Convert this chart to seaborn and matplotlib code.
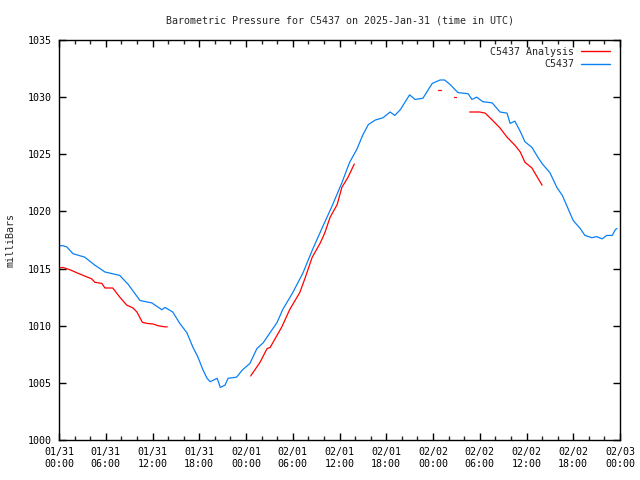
import numpy as np
import pandas as pd
import matplotlib
matplotlib.use("Agg")
import matplotlib.pyplot as plt
import seaborn as sns
from matplotlib.ticker import MultipleLocator
from matplotlib.lines import Line2D

# ---- data (hours since 2025-01-31 00:00 UTC, pressure in mb) ----
obs_hours = [0.0, 0.5, 1.0, 1.8, 3.3, 4.6, 5.9, 7.8, 8.9, 10.4, 11.9, 13.2, 13.6, 14.6,
             15.5, 16.4, 17.2, 17.8, 18.5, 19.0, 19.4, 20.3, 20.7, 21.3, 21.7, 22.8,
             23.5, 24.5, 25.4, 26.2, 27.1, 28.0, 28.7, 30.0, 31.3, 32.5, 33.8, 35.0,
             36.3, 37.3, 38.2, 39.0, 39.7, 40.6, 41.6, 42.5, 43.1, 43.8, 45.0, 45.7,
             46.7, 47.9, 48.9, 49.5, 50.2, 51.2, 52.5, 53.0, 53.6, 54.4, 55.6, 56.6,
             57.5, 57.9, 58.5, 59.2, 59.8, 60.7, 61.5, 62.1, 63.0, 63.9, 64.6, 65.3,
             66.0, 66.9, 67.5, 68.4, 69.0, 69.7, 70.3, 71.0, 71.4, 71.6]
obs_press = [1017.0, 1017.0, 1016.9, 1016.3, 1016.0, 1015.3, 1014.7, 1014.4, 1013.6, 1012.2,
             1012.0, 1011.4, 1011.6, 1011.2, 1010.2, 1009.4, 1008.1, 1007.3, 1006.1, 1005.4,
             1005.1, 1005.4, 1004.6, 1004.8, 1005.4, 1005.5, 1006.1, 1006.7, 1008.0, 1008.5,
             1009.4, 1010.3, 1011.4, 1012.9, 1014.6, 1016.6, 1018.6, 1020.4, 1022.5, 1024.3,
             1025.4, 1026.7, 1027.6, 1028.0, 1028.2, 1028.7, 1028.4, 1028.9, 1030.2, 1029.8,
             1029.9, 1031.2, 1031.5, 1031.5, 1031.1, 1030.4, 1030.3, 1029.8, 1030.0, 1029.6,
             1029.5, 1028.7, 1028.6, 1027.7, 1027.9, 1027.0, 1026.1, 1025.6, 1024.7, 1024.1,
             1023.4, 1022.1, 1021.4, 1020.3, 1019.2, 1018.5, 1017.9, 1017.7, 1017.8, 1017.6,
             1017.9, 1017.9, 1018.4, 1018.5]

ana_hours = [0.0, 0.5, 1.4, 2.4, 3.3, 4.2, 4.6, 5.5, 5.9, 6.9, 7.8, 8.7, 9.5, 10.0, 10.7,
             11.3, 12.1, 12.7, 13.6, 13.9,
             24.6, 25.8, 26.7, 27.1, 28.6, 29.6, 30.9, 31.6, 32.5, 33.5, 34.1, 34.8, 35.7,
             36.3, 37.1, 37.9,
             48.6, 49.0,
             50.7, 51.0,
             52.7, 54.0, 54.7, 55.6, 56.6, 57.5, 58.5, 59.2, 59.8, 60.7, 61.3, 62.0]
ana_press = [1015.05, 1015.1, 1014.9, 1014.6, 1014.35, 1014.1, 1013.8, 1013.7, 1013.3, 1013.3,
             1012.5, 1011.8, 1011.55, 1011.2, 1010.3, 1010.2, 1010.15, 1010.0, 1009.9, 1009.9,
             1005.6, 1006.8, 1008.0, 1008.1, 1009.9, 1011.4, 1012.9, 1014.2, 1016.0, 1017.2,
             1018.1, 1019.5, 1020.6, 1022.1, 1023.0, 1024.15,
             1030.6, 1030.6,
             1030.0, 1030.0,
             1028.7, 1028.7, 1028.6, 1028.0, 1027.3, 1026.5, 1025.8, 1025.2, 1024.3, 1023.8,
             1023.1, 1022.3]
ana_segment = [0] * 20 + [1] * 16 + [2] * 2 + [3] * 2 + [4] * 12

tick_labels = ["01/31\n00:00", "01/31\n06:00", "01/31\n12:00", "01/31\n18:00",
               "02/01\n00:00", "02/01\n06:00", "02/01\n12:00", "02/01\n18:00",
               "02/02\n00:00", "02/02\n06:00", "02/02\n12:00", "02/02\n18:00",
               "02/03\n00:00"]

RED = "#ff0000"
BLUE = "#0a80f5"
FS = 7.2

obs_df = pd.DataFrame({"hours": obs_hours, "press": obs_press, "seg": 0})
ana_df = pd.DataFrame({"hours": ana_hours, "press": ana_press, "seg": ana_segment})

sns.set_style("ticks")
plt.rcParams["font.family"] = ["DejaVu Sans Mono", "DejaVu Sans"]
plt.rcParams["font.size"] = FS

fig = plt.figure(figsize=(6.4, 4.8), dpi=100)
ax = fig.add_axes([59 / 640, 1 - 440 / 480, 561 / 640, 400 / 480])

sns.lineplot(data=obs_df, x="hours", y="press", units="seg", estimator=None,
             color=BLUE, lw=0.9, ax=ax, legend=False)
sns.lineplot(data=ana_df, x="hours", y="press", units="seg", estimator=None,
             color=RED, lw=0.9, ax=ax, legend=False)

ax.set_xlim(0, 72)
ax.set_ylim(1000, 1035)
ax.set_xticks(np.arange(0, 73, 6))
ax.set_xticklabels(tick_labels)
ax.xaxis.set_minor_locator(MultipleLocator(2))
ax.set_yticks(np.arange(1000, 1036, 5))
ax.set_yticklabels([str(v) for v in range(1000, 1036, 5)])

ax.tick_params(axis="both", which="major", direction="in", length=5, width=1,
               top=True, right=True, labelsize=FS, pad=5, colors="black")
ax.tick_params(axis="x", which="minor", direction="in", length=3, width=1,
               top=True, bottom=True)
for sp in ax.spines.values():
    sp.set_visible(True)
    sp.set_linewidth(1)
    sp.set_color("black")

ax.set_xlabel("")
ax.set_ylabel("milliBars", fontsize=FS)
ax.yaxis.set_label_coords(-0.078, 0.5)
ax.set_title("Barometric Pressure for C5437 on 2025-Jan-31 (time in UTC)",
             fontsize=FS, pad=12)

handles = [Line2D([], [], color=RED, lw=1), Line2D([], [], color=BLUE, lw=1)]
leg = ax.legend(handles, ["C5437 Analysis", "C5437"], loc="upper right",
                bbox_to_anchor=(0.983, 0.9825), frameon=False, markerfirst=False,
                fontsize=FS, handlelength=2.9, handletextpad=0.75,
                labelspacing=0.25, borderaxespad=0.0, borderpad=0.0)

fig.savefig("out.png", dpi=100)
